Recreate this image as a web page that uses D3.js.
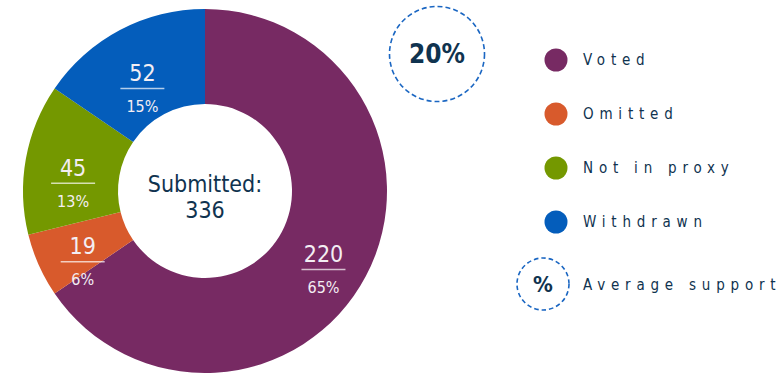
<!DOCTYPE html>
<html><head><meta charset="utf-8">
<script src="https://cdn.jsdelivr.net/npm/d3@7"></script>
<style>
html,body{margin:0;padding:0;background:#fff;}
svg{display:block;}
</style></head>
<body>
<svg id="chart" width="784" height="373"></svg>
<script>
const categories = ["Voted", "Omitted", "Not in proxy", "Withdrawn"];
const values = [220, 19, 45, 52];
const percentLabels = ["65%", "6%", "13%", "15%"];
const colors = ["#772a63", "#d85a2c", "#749800", "#045dbb"];
const totalLabel = ["Submitted:", "336"];
const averageSupport = "20%";
const legendExtra = "Average support";

const FONT = "'DejaVu Sans Condensed','Noto Sans',sans-serif";
const NAVY = "#10334f";
const svg = d3.select("#chart");
const cx = 205, cy = 191, outerR = 182, innerR = 87, labelR = 134;

const pie = d3.pie().sort(null).value(d => d)(values);
const arc = d3.arc().innerRadius(innerR).outerRadius(outerR);
const labelArc = d3.arc().innerRadius(labelR).outerRadius(labelR);

const g = svg.append("g").attr("transform", `translate(${cx},${cy})`);
g.selectAll("path.slice").data(pie).join("path")
  .attr("class","slice")
  .attr("d", arc)
  .attr("fill", (d,i) => colors[i]);

const lab = g.selectAll("g.lab").data(pie).join("g")
  .attr("class","lab")
  .attr("transform", d => { const c = labelArc.centroid(d); return `translate(${c[0]},${c[1]})`; });
lab.append("text")
  .attr("text-anchor","middle").attr("dy","0.36em")
  .attr("font-family", FONT).attr("font-size", 23)
  .attr("fill","#f3eef3")
  .text(d => d.data);
lab.append("line")
  .attr("x1",-22).attr("x2",22).attr("y1",16).attr("y2",16)
  .attr("stroke","#ffffff").attr("stroke-opacity",0.7).attr("stroke-width",1.5);
lab.append("text")
  .attr("text-anchor","middle").attr("y",34).attr("dy","0.36em")
  .attr("font-family", FONT).attr("font-size", 16)
  .attr("fill","#f3eef3")
  .text((d,i) => percentLabels[i]);

g.append("text").attr("text-anchor","middle").attr("y",-7).attr("dy","0.36em")
  .attr("font-family", FONT).attr("font-size",23).attr("fill",NAVY).text(totalLabel[0]);
g.append("text").attr("text-anchor","middle").attr("y",19).attr("dy","0.36em")
  .attr("font-family", FONT).attr("font-size",23).attr("fill",NAVY).text(totalLabel[1]);

// Average support badge
svg.append("circle").attr("cx",437).attr("cy",54).attr("r",47.5)
  .attr("fill","none").attr("stroke","#1a66c2").attr("stroke-width",1.6).attr("stroke-dasharray","5,3");
svg.append("text").attr("x",437).attr("y",54).attr("dy","0.36em").attr("text-anchor","middle")
  .attr("font-family", FONT).attr("font-weight","bold").attr("font-size",26).attr("fill",NAVY)
  .text(averageSupport);

// Legend
const legY = d3.scalePoint().domain(categories).range([60, 222]);
const leg = svg.selectAll("g.leg").data(categories).join("g").attr("class","leg")
  .attr("transform", d => `translate(556,${legY(d)})`);
leg.append("circle").attr("r",11.5).attr("fill",(d,i)=>colors[i]);
leg.append("text").attr("x",27).attr("dy","0.36em")
  .attr("font-family", FONT).attr("font-size",15).attr("letter-spacing","5.8px").attr("fill",NAVY)
  .text(d => d);

svg.append("circle").attr("cx",543).attr("cy",284).attr("r",26)
  .attr("fill","none").attr("stroke","#1a66c2").attr("stroke-width",1.6).attr("stroke-dasharray","4.5,3");
svg.append("text").attr("x",543).attr("y",284).attr("dy","0.36em").attr("text-anchor","middle")
  .attr("font-family", FONT).attr("font-weight","bold").attr("font-size",22).attr("fill",NAVY).text("%");
svg.append("text").attr("x",583).attr("y",285).attr("dy","0.36em")
  .attr("font-family", FONT).attr("font-size",15).attr("letter-spacing","5.8px").attr("fill",NAVY)
  .text(legendExtra);
</script>
</body></html>
